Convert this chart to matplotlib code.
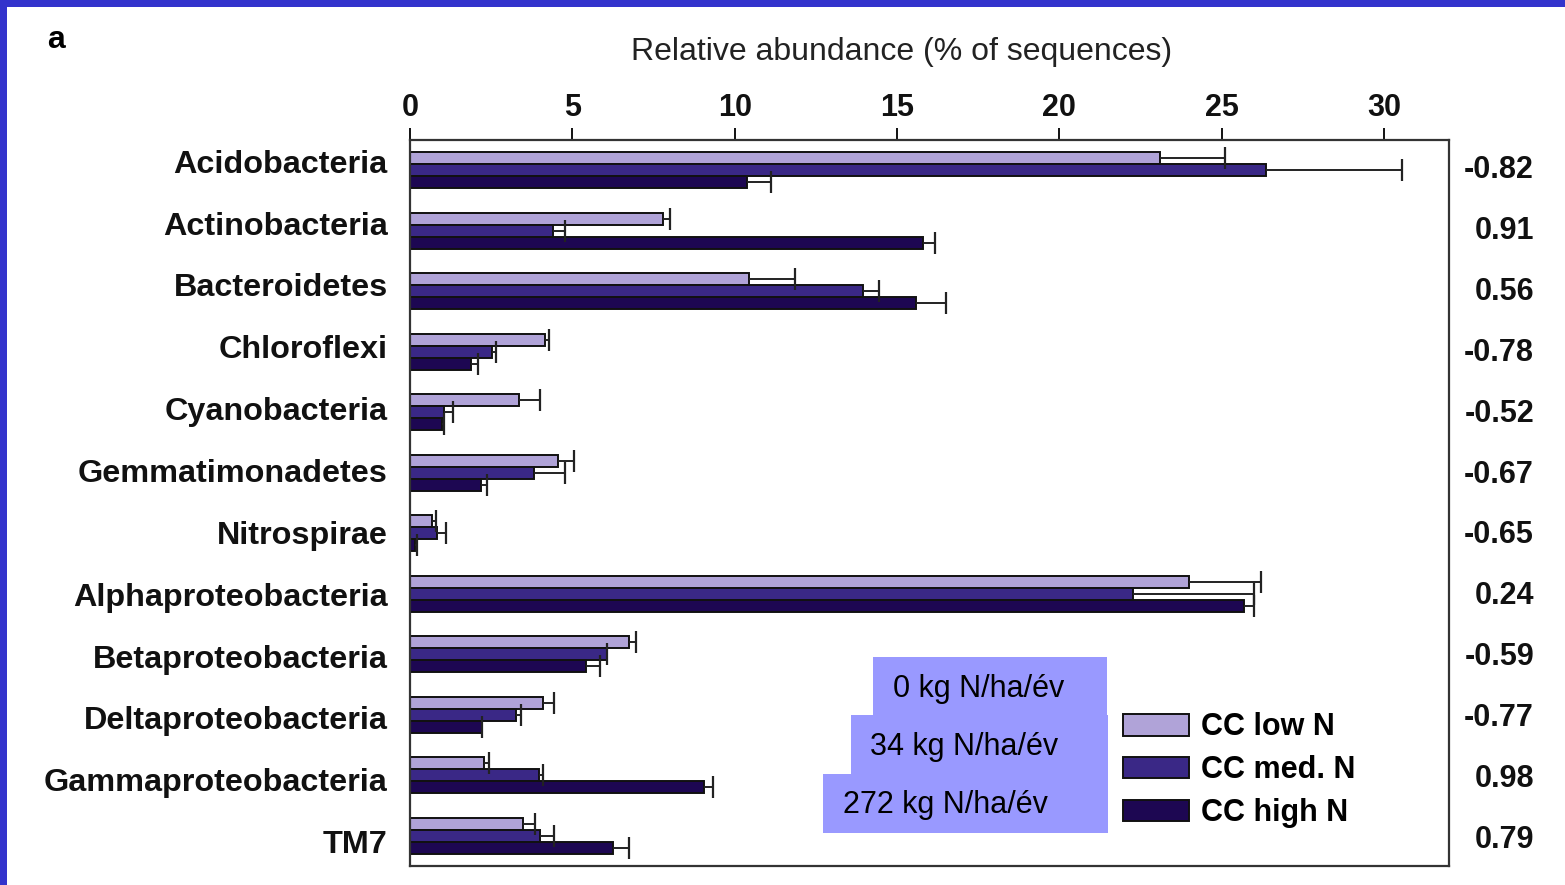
import matplotlib
matplotlib.use("Agg")
import matplotlib.pyplot as plt
import matplotlib.transforms as mtransforms
from matplotlib.patches import Rectangle
import numpy as np

plt.rcParams['font.family'] = ['Liberation Sans', 'DejaVu Sans']

# data
phyla = ["Acidobacteria", "Actinobacteria", "Bacteroidetes", "Chloroflexi",
         "Cyanobacteria", "Gemmatimonadetes", "Nitrospirae", "Alphaproteobacteria",
         "Betaproteobacteria", "Deltaproteobacteria", "Gammaproteobacteria", "TM7"]
low_n = [23.1, 7.8, 10.45, 4.15, 3.35, 4.55, 0.67, 24.0, 6.75, 4.09, 2.29, 3.49]
low_err = [2.0, 0.2, 1.4, 0.14, 0.65, 0.5, 0.14, 2.2, 0.22, 0.35, 0.14, 0.36]
med_n = [26.35, 4.4, 13.96, 2.52, 1.05, 3.81, 0.83, 22.26, 6.08, 3.26, 3.98, 4.0]
med_err = [4.2, 0.36, 0.5, 0.14, 0.28, 0.95, 0.29, 3.73, 0.0, 0.15, 0.11, 0.44]
high_n = [10.39, 15.8, 15.59, 1.88, 1.0, 2.19, 0.16, 25.7, 5.42, 2.21, 9.05, 6.24]
high_err = [0.73, 0.37, 0.93, 0.2, 0.05, 0.19, 0.07, 0.28, 0.43, 0.02, 0.29, 0.5]
corr = ["-0.82", "0.91", "0.56", "-0.78", "-0.52", "-0.67", "-0.65", "0.24",
        "-0.59", "-0.77", "0.98", "0.79"]
series_names = ["CC low N", "CC med. N", "CC high N"]
doses = ["0 kg N/ha/év", "34 kg N/ha/év", "272 kg N/ha/év"]

colors = ["#b0a3d8", "#3a2886", "#1d0752"]
W, H = 1565, 885

fig = plt.figure(figsize=(W / 100, H / 100), dpi=100)
ax = fig.add_axes([410 / W, 1 - 866 / H, (1449 - 410) / W, (866 - 140) / H])

y = np.arange(len(phyla))
bh = 0.2
series = [(low_n, low_err), (med_n, med_err), (high_n, high_err)]
for k, (vals, errs) in enumerate(series):
    pos = y + (k - 1) * bh
    ax.barh(pos, vals, height=bh, color=colors[k], edgecolor="#111111",
            linewidth=1.4, label=series_names[k], zorder=2)
    eb = ax.errorbar(vals, pos, xerr=[np.zeros(len(vals)), errs], fmt="none",
                     ecolor="#222222", elinewidth=1.4, capsize=8, capthick=1.6,
                     zorder=3)
    eb[1][0].set_visible(False)  # no cap at the bar end

ax.set_xlim(0, 32)
ax.set_ylim(len(phyla) - 0.5, -0.5)

for s in ax.spines.values():
    s.set_linewidth(1.6)
    s.set_color("#333333")

ax.xaxis.tick_top()
ax.set_xticks([0, 5, 10, 15, 20, 25, 30])
ax.tick_params(axis="x", direction="out", length=9, width=1.4, pad=3,
               labelsize=22, colors="#111111")
for lab in ax.get_xticklabels():
    lab.set_fontweight("bold")
ax.xaxis.set_label_position("top")
ax.set_xlabel("Relative abundance (% of sequences)", fontsize=23, color="#222222")
ax.xaxis.set_label_coords((902 - 410) / (1449 - 410), 1.0 + (140 - 60) / 726)

# category labels drift slightly vs. the bar groups in the original
ax.set_yticks(y)
ax.set_yticklabels(phyla, fontsize=23.3, fontweight="bold", color="#111111")
ax.tick_params(axis="y", length=0, pad=16)
for i, lab in enumerate(ax.get_yticklabels()):
    up = (9 - 1.35 * i) / 100
    lab.set_transform(lab.get_transform() +
                      mtransforms.ScaledTranslation(0, up, fig.dpi_scale_trans))

trans = mtransforms.blended_transform_factory(ax.transAxes, ax.transData)
for i, c in enumerate(corr):
    t = ax.text((1534 - 410) / (1449 - 410), i, c, transform=trans, ha="right",
                va="center", fontsize=22, fontweight="bold", color="#111111")
    down = (0.35 * i) / 100
    t.set_transform(trans + mtransforms.ScaledTranslation(0, -down, fig.dpi_scale_trans))

ax.legend(loc="upper left", bbox_to_anchor=((1099 - 410) / 1039, 1 - (688 - 140) / 726),
          frameon=False, prop={"weight": "bold", "size": 22},
          handlelength=2.15, handleheight=0.72, handletextpad=0.4,
          labelspacing=0.42, borderpad=0.3)

# blue dose boxes
boxes = [(873, 657, 1107, 716), (851, 715, 1108, 774), (823, 774, 1108, 833)]
text_x = [893, 870, 843]
for (x0, y0, x1, y1), tx, t in zip(boxes, text_x, doses):
    fig.patches.append(Rectangle((x0 / W, 1 - y1 / H), (x1 - x0) / W, (y1 - y0) / H,
                                 transform=fig.transFigure, facecolor="#9999ff",
                                 edgecolor="none", zorder=5))
    fig.text(tx / W, 1 - ((y0 + y1) / 2 + 2) / H, t, fontsize=22, color="black",
             ha="left", va="center", zorder=6)

# panel letter
fig.text(47 / W, 1 - 40 / H, "a", fontsize=23, fontweight="bold", va="center")

# blue frame on top and left
fig.patches.append(Rectangle((0, 1 - 7 / H), 1, 7 / H, transform=fig.transFigure,
                             facecolor="#3333cc", edgecolor="none", zorder=10))
fig.patches.append(Rectangle((0, 0), 7 / W, 1, transform=fig.transFigure,
                             facecolor="#3333cc", edgecolor="none", zorder=10))

fig.savefig("out.png", dpi=100)
